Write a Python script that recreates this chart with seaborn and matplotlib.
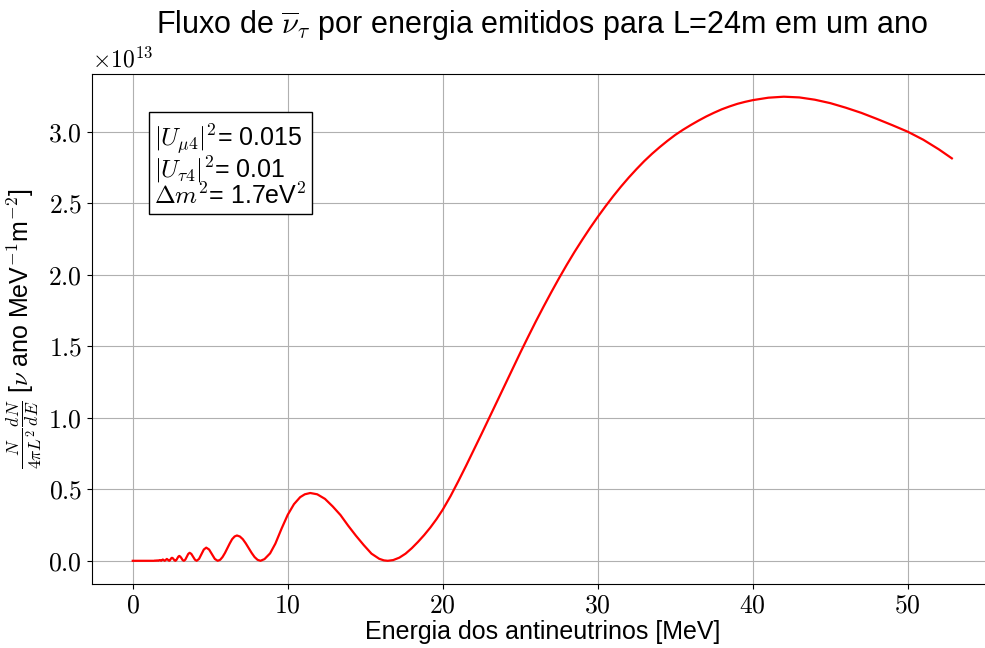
import numpy as np
import pandas as pd
import matplotlib
matplotlib.use("Agg")
import matplotlib.pyplot as plt
import seaborn as sns
from matplotlib.ticker import FuncFormatter

# energia [MeV] e fluxo (em unidades de 1e13)
energia = [0.0, 1.0, 1.3, 1.38, 1.44, 1.5, 1.57, 1.65, 1.70, 1.74, 1.78, 1.83,
           1.885, 1.94, 2.0, 2.06, 2.13, 2.2, 2.27, 2.35, 2.395, 2.44, 2.485,
           2.53, 2.585, 2.64, 2.695, 2.75, 2.81, 2.875, 2.94, 3.0, 3.07, 3.15,
           3.22, 3.3, 3.39, 3.485, 3.58, 3.67, 3.78, 3.895, 4.01, 4.12, 4.275,
           4.43, 4.585, 4.74, 4.925, 5.11, 5.295, 5.48, 5.64, 5.79, 5.95, 6.10,
           6.26, 6.41, 6.57, 6.72, 6.91, 7.10, 7.29, 7.48, 7.67, 7.86, 8.05,
           8.24, 8.5, 8.86, 9.2, 9.6, 10.0, 10.4, 10.8, 11.1, 11.45, 11.9, 12.4,
           12.9, 13.4, 13.9, 14.4, 14.9, 15.4, 15.9, 16.2, 16.45, 16.8, 17.2,
           17.6, 18.0, 18.4, 18.8, 19.2, 19.6, 20.0, 20.5, 21.0, 21.5, 22.0,
           22.5, 23.0, 23.5, 24.0, 24.5, 25.0, 25.5, 26.0, 26.5, 27.0, 27.5,
           28.0, 28.5, 29.0, 29.5, 30.0, 30.5, 31.0, 31.5, 32.0, 32.5, 33.0,
           33.5, 34.0, 34.5, 35.0, 35.5, 36.0, 36.5, 37.0, 37.5, 38.0, 38.5,
           39.0, 39.5, 40.0, 41.0, 42.0, 43.0, 44.0, 45.0, 46.0, 47.0, 48.0,
           49.0, 50.0, 51.0, 52.0, 52.84]
fluxo_e13 = [0.0, 0.0, 0.0, 0.0, 0.002, 0.0, 0.003, 0.0, 0.0035, 0.005, 0.0035, 0.0,
             0.0045, 0.009, 0.0045, 0.0, 0.0065, 0.013, 0.0065, 0.0, 0.003, 0.0105, 0.018,
             0.021, 0.018, 0.0105, 0.003, 0.0, 0.005, 0.017, 0.029, 0.034, 0.029, 0.017,
             0.005, 0.0, 0.008, 0.028, 0.048, 0.056, 0.048, 0.028, 0.008, 0.0, 0.013,
             0.046, 0.079, 0.092, 0.079, 0.046, 0.013, 0.0, 0.007, 0.026, 0.055, 0.088,
             0.122, 0.151, 0.170, 0.177, 0.170, 0.151, 0.122, 0.088, 0.055, 0.026, 0.007,
             0.0, 0.012, 0.052, 0.12, 0.225, 0.322, 0.396, 0.445, 0.465, 0.474, 0.465, 0.433,
             0.38, 0.32, 0.245, 0.175, 0.11, 0.05, 0.014, 0.003, 0.0, 0.005, 0.022,
             0.05, 0.088, 0.132, 0.18, 0.233, 0.292, 0.358, 0.452, 0.556, 0.664, 0.775,
             0.887, 1.0, 1.114, 1.228, 1.342, 1.455, 1.565, 1.673, 1.777, 1.878, 1.976,
             2.07, 2.16, 2.245, 2.327, 2.405, 2.479, 2.55, 2.617, 2.68, 2.739, 2.795,
             2.846, 2.893, 2.937, 2.978, 3.014, 3.047, 3.078, 3.107, 3.133, 3.157, 3.177,
             3.195, 3.209, 3.221, 3.238, 3.245, 3.24, 3.224, 3.200, 3.168, 3.132, 3.09,
             3.046, 3.0, 2.944, 2.877, 2.814]

texto_params = ("$|U_{\\mu4}|^2$= 0.015\n"
                "$|U_{\\tau4}|^2$= 0.01\n"
                "$\\Delta m^2$= 1.7eV$^2$")

plt.rcParams['font.family'] = ['Liberation Sans', 'DejaVu Sans']
plt.rcParams['mathtext.fontset'] = 'cm'

df = pd.DataFrame({'E': energia, 'F': fluxo_e13})

fig = plt.figure(figsize=(9.85, 6.48), dpi=100)
ax = fig.add_axes([91.8/985, 1-584/648, 901/985, (584-73.5)/648])
sns.lineplot(data=df, x='E', y='F', color='red', linewidth=1.6, ax=ax)
ax.margins(x=0.05, y=0.05)
ax.grid(True, color='#b0b0b0', linewidth=0.8)
ax.set_axisbelow(True)

ax.xaxis.set_major_formatter(FuncFormatter(lambda v, p: f"${v:.0f}$"))
ax.yaxis.set_major_formatter(FuncFormatter(lambda v, p: f"${v:.1f}$"))
ax.set_yticks([0.0, 0.5, 1.0, 1.5, 2.0, 2.5, 3.0])
ax.tick_params(labelsize=18.5)
ax.text(0.0, 1.003, r"$\times 10^{13}$", transform=ax.transAxes, fontsize=17,
        ha='left', va='bottom')

ax.set_title(r"Fluxo de $\overline{\nu}_\tau$ por energia emitidos para L=24m em um ano",
             fontsize=22, pad=29)
ax.set_xlabel("Energia dos antineutrinos [MeV]", fontsize=18, labelpad=2)
ax.set_ylabel(r"$\frac{N}{4\pi L^2}\frac{dN}{dE}$ [$\nu$ ano MeV$^{-1}$m$^{-2}$]",
              fontsize=18, labelpad=2)

ax.text(0.069, 0.904, texto_params, transform=ax.transAxes, fontsize=18,
        ha='left', va='top', linespacing=0.9,
        bbox=dict(boxstyle='square,pad=0.2', facecolor='white', edgecolor='black'))

fig.savefig('out.png', dpi=100)
